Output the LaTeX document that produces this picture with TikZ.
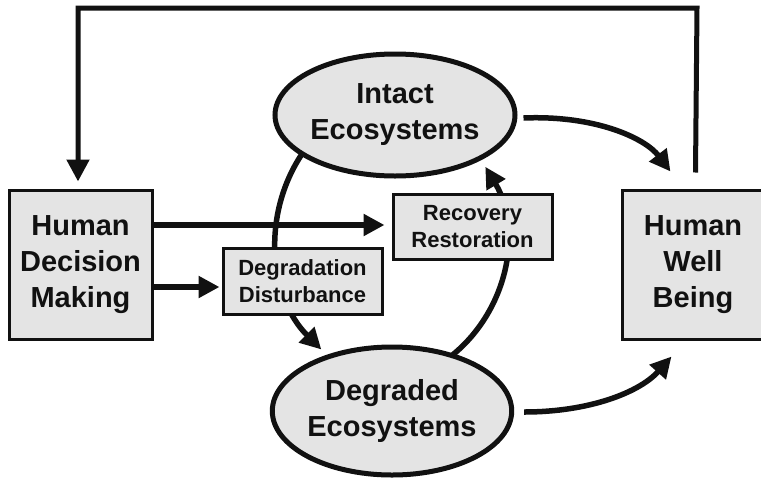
\documentclass[tikz,border=0pt]{standalone}
\usepackage{fontspec}
\setmainfont{Liberation Sans}
\usetikzlibrary{arrows.meta,shapes.geometric,calc}
\definecolor{gfill}{HTML}{E4E4E4}
\definecolor{ink}{HTML}{111111}
\newcommand\fbig{\bfseries\fontsize{29}{36}\selectfont}
\newcommand\fsml{\bfseries\fontsize{22}{26.5}\selectfont}
\begin{document}
\begin{tikzpicture}[x=1pt,y=-1pt, line join=miter,
  bigbox/.style={draw=ink, line width=3pt, fill=gfill, inner sep=0pt, align=center, text=ink, font=\fbig},
  smlbox/.style={draw=ink, line width=3pt, fill=gfill, inner sep=0pt, align=center, text=ink, font=\fsml},
  eco/.style={ellipse, draw=ink, line width=5pt, fill=gfill, inner sep=0pt, align=center, text=ink, font=\fbig},
  arr/.style={draw=ink, line width=5.5pt, -{Triangle[length=21pt,width=21pt]}},
  fb/.style={draw=ink, line width=5pt, -{Triangle[length=22pt,width=22pt]}},
]
\useasboundingbox (0,0) rectangle (761,480);
\fill[white] (0,0) rectangle (761,480);

% arcs between the ecosystem states (drawn first, so they pass behind the boxes)
\coordinate (lstart) at (304,151);
\coordinate (rstart) at (450,357);
\draw[arr] (lstart) arc[start angle=215, end angle=135, radius=155];
\draw[arr] (rstart) arc[start angle=52, end angle=-31, radius=146];

% nodes
\node[bigbox, minimum width=143pt, minimum height=149pt] (hdm) at (80.5,264.5) {Human\\Decision\\Making};
\node[bigbox, minimum width=142pt, minimum height=149pt] (hwb) at (693,264.5) {Human\\Well\\Being};
\node[smlbox, minimum width=159pt, minimum height=65pt] (rec) at (472.5,226.5) {Recovery\\Restoration};
\node[smlbox, minimum width=159pt, minimum height=66pt] (deg) at (302.5,281) {Degradation\\Disturbance};
\node[eco, minimum width=240pt, minimum height=122pt] (intact) at (395,115) {Intact\\Ecosystems};
\node[eco, minimum width=239pt, minimum height=128pt] (degraded) at (392,411) {Degraded\\Ecosystems};

% decision arrows
\draw[arr] (hdm.east |- 0,225) -- ([xshift=-7pt]rec.west |- 0,225);
\draw[arr] (hdm.east |- 0,287) -- ([xshift=-2pt]deg.west |- 0,287);

% ecosystem to well-being
\coordinate (is) at ($(intact.east)+(6,3)$);
\coordinate (it) at ($(hwb.north west)+(50,-17)$);
\draw[arr] (is) .. controls (595,115) and (645,138) .. (it);
\coordinate (ds) at ($(degraded.east)+(10,1)$);
\coordinate (dt) at ($(hwb.south west)+(51,16)$);
\draw[arr] (ds) .. controls (590,412) and (640,392) .. (dt);

% feedback loop
\coordinate (fbs) at ($(hwb.north west)+(75,-16)$);
\draw[fb] (fbs) -- (697,8) -- (78,8) -- ($(hdm.north)+(-2.5,-7)$);
\end{tikzpicture}
\end{document}
